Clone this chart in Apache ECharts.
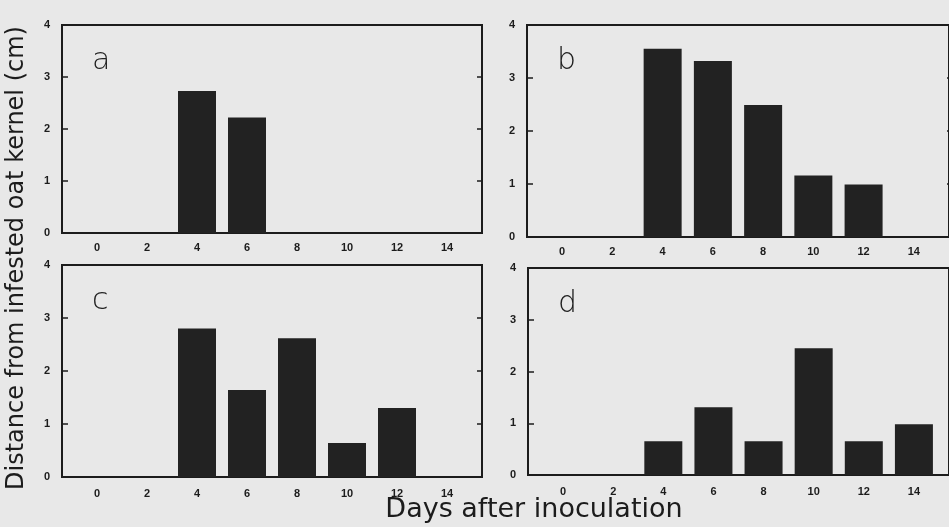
<!DOCTYPE html>
<html><head><meta charset="utf-8">
<script src="https://cdn.jsdelivr.net/npm/echarts@6/dist/echarts.min.js"></script>
<style>html,body{margin:0;padding:0;background:#e8e8e8;}#c{width:949px;height:527px;}</style>
</head><body><div id="c"></div>
<script>
// Data
var days = [0, 2, 4, 6, 8, 10, 12, 14];
var panelA = [0, 0, 2.73, 2.22, 0, 0, 0, 0];
var panelB = [0, 0, 3.55, 3.32, 2.49, 1.16, 0.99, 0];
var panelC = [0, 0, 2.80, 1.64, 2.62, 0.64, 1.30, 0];
var panelD = [0, 0, 0.65, 1.31, 0.65, 2.45, 0.65, 0.98];
var panelLetters = ['a', 'b', 'c', 'd'];
var xTitle = 'Days after inoculation';
var yTitle = 'Distance from infested oat kernel (cm)';

var panels = [panelA, panelB, panelC, panelD];
var grids = [
  {left: 62, top: 25, width: 420, height: 208},
  {left: 527, top: 25, width: 425, height: 212},
  {left: 62, top: 265, width: 420, height: 212},
  {left: 528, top: 268, width: 425, height: 207}
];
var ink = '#1c1c1c';
var option = {
  backgroundColor: '#e8e8e8',
  animation: false,
  grid: [], xAxis: [], yAxis: [], series: [], graphic: []
};
var n = grids.length;
grids.forEach(function (g, i) {
  option.grid.push({left: g.left, top: g.top, width: g.width, height: g.height,
    show: true, borderColor: ink, borderWidth: 2, backgroundColor: 'transparent'});
  option.xAxis.push({type: 'value', gridIndex: i, min: -1.4, max: 15.4,
    axisLine: {show: false, onZero: false}, axisTick: {show: false}, splitLine: {show: false},
    axisLabel: {customValues: days, margin: i < 2 ? 9 : 11, color: ink, fontSize: 11,
      fontFamily: 'Liberation Sans, Arial', fontWeight: 'bold'}});
  option.yAxis.push({type: 'value', gridIndex: i, min: 0, max: 4, interval: 1, position: 'left',
    axisLine: {show: false, onZero: false}, splitLine: {show: false},
    axisTick: {show: false},
    axisLabel: {margin: 12, color: ink, fontSize: 11, fontFamily: 'Liberation Sans, Arial', fontWeight: 'bold'}});
  option.series.push({type: 'bar', xAxisIndex: i, yAxisIndex: i, barWidth: 38,
    itemStyle: {color: '#222222'},
    data: days.map(function (d, k) { return [d, panels[i][k]]; })});
  option.graphic.push({type: 'text', left: g.left + 30, top: g.top + 21,
    style: {text: panelLetters[i], font: '200 30px "DejaVu Sans"', fill: '#222'}});
});
// narrow strip grids at the left and right frame edges: their split lines form the inward ticks
var strips = [];
grids.forEach(function (g) {
  strips.push({left: g.left, top: g.top, width: 6, height: g.height});
  strips.push({left: g.left + g.width - 5, top: g.top, width: 5, height: g.height});
});
strips.forEach(function (s, k) {
  var gi = n + k;
  option.grid.push({left: s.left, top: s.top, width: s.width, height: s.height, show: false});
  option.xAxis.push({type: 'value', gridIndex: gi, min: 0, max: 1, show: false});
  option.yAxis.push({type: 'value', gridIndex: gi, min: 0, max: 4, interval: 1, show: true,
    axisLine: {show: false, onZero: false}, axisTick: {show: false}, axisLabel: {show: false},
    splitLine: {show: true, lineStyle: {color: ink, width: 1.5}}});
});
option.graphic.push({type: 'text', x: 17, y: 258, rotation: Math.PI / 2,
  style: {text: yTitle, font: '24px "DejaVu Sans"', fill: ink, align: 'center', verticalAlign: 'middle'}});
option.graphic.push({type: 'text', x: 534, y: 510,
  style: {text: xTitle, font: '27px "DejaVu Sans"', fill: ink, align: 'center', verticalAlign: 'middle'}});
var chart = echarts.init(document.getElementById('c'), null, {renderer: 'canvas'});
chart.setOption(option);
</script></body></html>
